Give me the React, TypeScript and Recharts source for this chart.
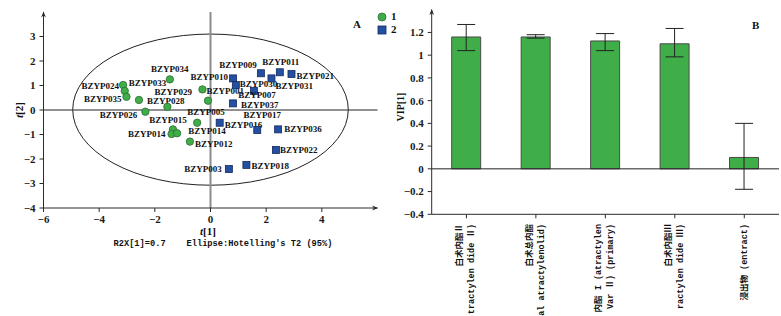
import {
  ScatterChart, Scatter, BarChart, Bar, ErrorBar,
  XAxis, YAxis, ReferenceLine, ReferenceArea, Legend,
} from 'recharts'

const AXIS_COLOR = '#2b2b2b'
const GREEN      = '#3fae49'
const GREEN_EDGE = '#2d6b33'
const BLUE       = '#2450a3'
const BLUE_EDGE  = '#15295c'
const SERIF = '"Liberation Serif", "DejaVu Serif", serif'
const MONO  = '"Liberation Mono", "Noto Sans CJK SC", monospace'

// ---- A: PCA score plot
const G_NAMES = ['BZYP024', 'BZYP033', 'BZYP035', 'BZYP028', 'BZYP034', 'BZYP029', 'BZYP026',
  'BZYP015', 'BZYP014', '', 'BZYP014', 'BZYP012', 'BZYP001', 'BZYP005']
const G_T1 = [-3.14, -3.08, -3.02, -2.57, -1.46, -1.55, -2.34, -1.35, -1.40, -1.20, -0.48, -0.74, -0.29, -0.09]
const G_T2 = [1.02, 0.78, 0.54, 0.41, 1.25, 0.13, -0.07, -0.79, -0.98, -0.95, -0.52, -1.29, 0.84, 0.38]

const B_NAMES = ['BZYP010', 'BZYP030', 'BZYP009', 'BZYP031', 'BZYP011', 'BZYP021', 'BZYP007',
  'BZYP037', 'BZYP016', 'BZYP017', 'BZYP036', 'BZYP022', 'BZYP018', 'BZYP003']
const B_T1 = [0.81, 0.91, 1.81, 2.19, 2.49, 2.91, 1.56, 0.81, 0.33, 1.68, 2.43, 2.35, 1.29, 0.66]
const B_T2 = [1.29, 1.02, 1.50, 1.29, 1.54, 1.47, 0.78, 0.27, -0.52, -0.82, -0.79, -1.63, -2.24, -2.41]

const T1_TICKS = [-6, -4, -2, 0, 2, 4]
const T2_TICKS = [-4, -3, -2, -1, 0, 1, 2, 3]

// where each point's name sits: [anchor, dx, dy] in px from the marker
type Place = ['start' | 'middle' | 'end', number, number]
const G_LABEL_POS: Place[] = [
  ['end', -4, 1], ['start', 4, -8], ['end', -5, 2], ['start', 8, 1], ['middle', 0, -10],
  ['middle', 6, -15], ['end', -8, 3], ['middle', -5, -9], ['end', -6, 0], ['end', 0, 0],
  ['start', -9, 8], ['start', 5, 2], ['start', 4, 2], ['middle', -2, 11],
]
const B_LABEL_POS: Place[] = [
  ['end', -5, -1], ['start', 4, -1], ['end', -4, -8], ['start', 4, 8], ['middle', 1, -10],
  ['start', 5, 2], ['middle', 3, 4], ['start', 8, 2], ['start', 5, 2], ['middle', 5, -15],
  ['start', 6, 0], ['start', 4, 0], ['start', 5, 1], ['end', -7, 0],
]

// ---- B: VIP plot
const VIP_CATS   = ['白术内酯Ⅱ', '白术总内酯', '白术内酯Ⅰ', '白术内酯Ⅲ', '浸出物']
const VIP_LINE1  = ['白术内酯Ⅱ', '白术总内酯', '内酯 I (atractylen', '白术内酯Ⅲ', '浸出物 (entract)']
const VIP_LINE2  = ['tractylen dide Ⅱ)', 'al atractylenolid)', 'Var Ⅱ) (primary)', 'ractylen dide Ⅲ)', '']
const VIP_VALUES = [1.16, 1.16, 1.125, 1.10, 0.10]
const VIP_ERR_LO = [0.12, 0.01, 0.085, 0.115, 0.28]
const VIP_ERR_HI = [0.11, 0.02, 0.065, 0.135, 0.30]
const VIP_TICKS  = [-0.4, -0.2, 0, 0.2, 0.4, 0.6, 0.8, 1, 1.2]

const greenData = G_NAMES.map((name, k) => ({ name, k, x: G_T1[k], y: G_T2[k] }))
const blueData  = B_NAMES.map((name, k) => ({ name, k, x: B_T1[k], y: B_T2[k] }))
const vipData   = VIP_CATS.map((cat, i) => ({ cat, vip: VIP_VALUES[i], err: [VIP_ERR_LO[i], VIP_ERR_HI[i]] }))

const fmtTick = (v: number) => String(v).replace('-', '−')
const tickStyle = { fill: '#1a1a1a', fontSize: 11, fontFamily: SERIF, fontWeight: 700 }

function PointLabel({ cx, cy, name, place }: { cx: number; cy: number; name: string; place?: Place }) {
  if (!name || !place) return null
  return (
    <text x={cx + place[1]} y={cy + place[2]} textAnchor={place[0]} dominantBaseline="central"
      fontFamily={SERIF} fontWeight={700} fontSize={9} fill="#111">
      {name}
    </text>
  )
}

function CircleMark(props: any) {
  const { cx, cy, payload } = props
  return (
    <g>
      <circle cx={cx} cy={cy} r={3.7} fill={GREEN} stroke={GREEN_EDGE} strokeWidth={0.8} />
      <PointLabel cx={cx} cy={cy} name={payload.name} place={G_LABEL_POS[payload.k]} />
    </g>
  )
}

function SquareMark(props: any) {
  const { cx, cy, payload } = props
  return (
    <g>
      <rect x={cx - 3.5} y={cy - 3.5} width={7} height={7} fill={BLUE} stroke={BLUE_EDGE} strokeWidth={0.8} />
      <PointLabel cx={cx} cy={cy} name={payload.name} place={B_LABEL_POS[payload.k]} />
    </g>
  )
}

function ScoreLegend({ payload }: { payload?: Array<{ value: string }> }) {
  return (
    <div style={{ font: `bold 11px ${SERIF}`, lineHeight: '13px', color: '#111' }}>
      {(payload ?? []).map(e => (
        <div key={e.value} style={{ display: 'flex', alignItems: 'center', gap: 4, height: 13 }}>
          <svg width={10} height={10}>
            {e.value === '1'
              ? <circle cx={5} cy={5} r={4} fill={GREEN} stroke={GREEN_EDGE} strokeWidth={0.8} />
              : <rect x={1} y={1} width={8} height={8} fill={BLUE} stroke={BLUE_EDGE} strokeWidth={0.8} />}
          </svg>
          <span>{e.value}</span>
        </div>
      ))}
    </div>
  )
}

function VipTick(props: any) {
  const { x, index } = props
  const l1 = VIP_LINE1[index]
  const l2 = VIP_LINE2[index]
  const lines: Array<[number, string]> = l2 ? [[x - 6, l1], [x + 6, l2]] : [[x + 1, l1]]
  return (
    <g>
      {lines.map(([lx, t]) => (
        <text key={t} transform={`translate(${lx},224) rotate(-90)`} textAnchor="end" dominantBaseline="central"
          fontFamily={MONO} fontWeight={700} fontSize={8.5} fill="#111">
          {t}
        </text>
      ))}
    </g>
  )
}

export default function App() {
  return (
    <div style={{ position: 'absolute', left: 0, top: 0, width: 781, height: 316, background: '#fff', overflow: 'hidden', fontFamily: SERIF }}>
      <svg width={0} height={0} style={{ position: 'absolute' }}>
        <defs>
          <marker id="axisArrow" viewBox="0 0 10 10" refX="9" refY="5" markerWidth="8" markerHeight="6"
            markerUnits="userSpaceOnUse" orient="auto-start-reverse">
            <path d="M0,1 L10,5 L0,9 L3,5 z" fill={AXIS_COLOR} />
          </marker>
        </defs>
      </svg>

      <div style={{ position: 'absolute', left: 0, top: 0 }}>
        <ScatterChart width={390} height={316} margin={{ top: 12, right: 12.5, bottom: 78, left: 0 }}>
          <XAxis type="number" dataKey="x" domain={[-6, 6]} ticks={T1_TICKS} height={30}
            axisLine={{ stroke: AXIS_COLOR, markerEnd: 'url(#axisArrow)' }} tickLine={{ stroke: AXIS_COLOR }}
            tickSize={4} tickMargin={3} tick={tickStyle} tickFormatter={fmtTick}
            label={{
              content: () => (
                <g fill="#111" fontWeight={700}>
                  <text x={208} y={231} textAnchor="middle" dominantBaseline="central" fontFamily={SERIF} fontSize={11}>
                    <tspan fontStyle="italic">t</tspan>[1]
                  </text>
                  <text x={223} y={244} textAnchor="middle" dominantBaseline="central" fontFamily={MONO} fontSize={8.7}
                    style={{ whiteSpace: 'pre' }}>
                    {"R2X[1]=0.7    Ellipse:Hotelling's T2 (95%)"}
                  </text>
                </g>
              ),
            }}
          />
          <YAxis type="number" dataKey="y" domain={[-4, 4]} ticks={T2_TICKS} width={43.5}
            axisLine={{ stroke: AXIS_COLOR, markerStart: 'url(#axisArrow)' }} tickLine={{ stroke: AXIS_COLOR }}
            tickSize={4} tickMargin={4} tick={tickStyle} tickFormatter={fmtTick}
            label={{
              content: () => (
                <text transform="translate(19,110) rotate(-90)" textAnchor="middle" dominantBaseline="central"
                  fontFamily={SERIF} fontWeight={700} fontSize={11} fill="#111">
                  <tspan fontStyle="italic">t</tspan>[2]
                </text>
              ),
            }}
          />
          <ReferenceArea x1={-4.95} x2={4.95} y1={-3.07} y2={3.1}
            shape={(p: any) => (
              <ellipse cx={p.x + p.width / 2} cy={p.y + p.height / 2} rx={p.width / 2} ry={p.height / 2}
                fill="none" stroke="#222" strokeWidth={1} />
            )}
          />
          <ReferenceLine x={0} stroke="#8c8c8c" strokeWidth={2} />
          <ReferenceLine y={0} stroke="#222" strokeWidth={1} />
          <Legend layout="horizontal" verticalAlign="middle" align="center" width={30}
            wrapperStyle={{ left: 377, top: 10, width: 30 }} content={<ScoreLegend />} />
          <Scatter name="1" data={greenData} fill={GREEN} shape={CircleMark} isAnimationActive={false} />
          <Scatter name="2" data={blueData} fill={BLUE} shape={SquareMark} isAnimationActive={false} />
        </ScatterChart>
      </div>

      <div style={{ position: 'absolute', left: 353, top: 18, font: `bold 11px ${SERIF}`, lineHeight: '12px', color: '#111' }}>A</div>

      <div style={{ position: 'absolute', left: 390, top: 0 }}>
        <BarChart width={391} height={316} data={vipData} margin={{ top: 9.7, right: 2, bottom: 0, left: 0 }}>
          <XAxis dataKey="cat" height={101.7} interval={0}
            axisLine={{ stroke: AXIS_COLOR }} tickLine={{ stroke: AXIS_COLOR }} tickSize={4}
            tick={(p: any) => <VipTick {...p} />}
          />
          <YAxis domain={[-0.4, 1.4]} ticks={VIP_TICKS} width={41.7}
            axisLine={{ stroke: AXIS_COLOR, markerStart: 'url(#axisArrow)' }} tickLine={{ stroke: AXIS_COLOR }}
            tickSize={4} tickMargin={4} tick={tickStyle} tickFormatter={fmtTick}
            label={{
              content: () => (
                <text transform="translate(10,107) rotate(-90)" textAnchor="middle" dominantBaseline="central"
                  fontFamily={SERIF} fontWeight={700} fontSize={10} fill="#111">
                  VIP[1]
                </text>
              ),
            }}
          />
          <ReferenceLine y={0} stroke="#222" strokeWidth={1} />
          <Bar dataKey="vip" fill={GREEN} stroke="#4a4a4a" strokeWidth={1} barSize={29} isAnimationActive={false}>
            <ErrorBar dataKey="err" width={9} stroke="#222" strokeWidth={1} direction="y" />
          </Bar>
        </BarChart>
      </div>

      <div style={{ position: 'absolute', left: 752, top: 19, font: `bold 11px ${SERIF}`, lineHeight: '12px', color: '#111' }}>B</div>
    </div>
  )
}
